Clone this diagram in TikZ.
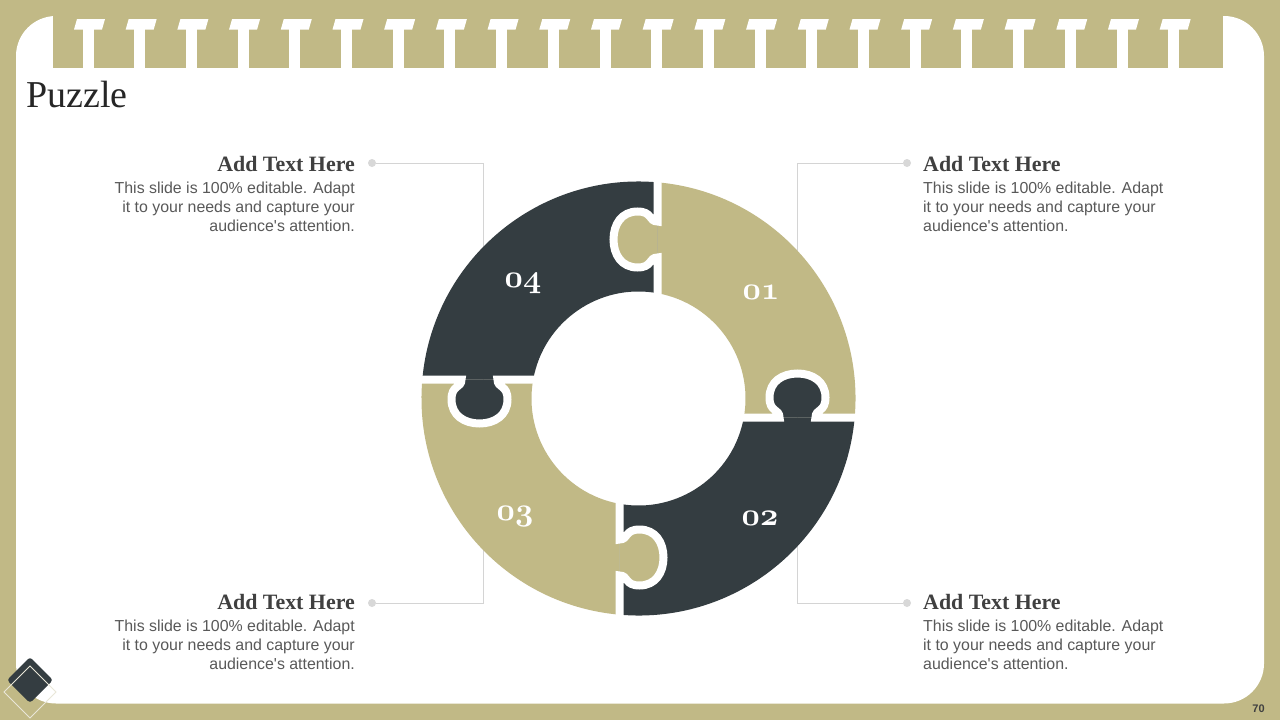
\documentclass[tikz,border=0pt]{standalone}
\usepackage{fontspec}
\setmainfont{Liberation Serif}
\setsansfont{Liberation Sans}
\usepackage{tikz}

\definecolor{tan}{RGB}{193,185,134}
\definecolor{slate}{RGB}{52,61,65}
\definecolor{bodygray}{RGB}{89,89,89}
\definecolor{headgray}{RGB}{64,64,64}
\definecolor{titlegray}{RGB}{38,38,38}
\definecolor{linegray}{RGB}{212,212,212}
\definecolor{dotgray}{RGB}{216,216,216}
\definecolor{diamondline}{RGB}{233,230,216}

\tikzset{
  heading/.style={font=\bfseries\fontsize{21.9}{24}\selectfont, text=headgray, inner sep=0},
  blurb/.style={font=\sffamily\fontsize{15.9}{19.3}\selectfont, text=bodygray, inner sep=0},
  numlabel/.style={font=\fontsize{24.88}{26}\usefont{OML}{cmm}{b}{it}, text=white, scale=1.28, inner sep=0},
  enddot/.style={circle, fill=dotgray, minimum size=8, inner sep=0},
  leader/.style={draw=linegray, line width=0.9},
}

\begin{document}
\begin{tikzpicture}[x=1pt,y=-1pt]
            \useasboundingbox (0,0) rectangle (1280,720);
            \fill[tan] (0,0) rectangle (1280,720);
            \fill[white, rounded corners=40] (16,16) rectangle (1264,703.5);
            \fill[tan] (53,0) rectangle (1223,67.5);
            \foreach \k in {0,...,21}{
                \pgfmathsetmacro\cx{88+51.7*\k}
                \fill[white] (\cx-5.5,29) rectangle (\cx+5.5,68);
                \fill[white] (\cx-14,29.5) -- (\cx-11,19) -- (\cx+17,19) -- (\cx+14,29.5) -- cycle;
            }
            \node[font=\fontsize{38}{40}\selectfont, text=titlegray, anchor=base west, inner sep=0] (title) at (26,107.3) {Puzzle};

            \node[enddot] (dotTL) at (372,163) {};
            \node[enddot] (dotBL) at (372,603) {};
            \node[enddot] (dotTR) at (907,163) {};
            \node[enddot] (dotBR) at (907,603) {};
            \coordinate (kneeTL) at (483,163);
            \coordinate (kneeBL) at (483,603);
            \coordinate (kneeTR) at (797,163);
            \coordinate (kneeBR) at (797,603);
            \draw[leader] (dotTL) -- (kneeTL) -- (kneeBL) -- (dotBL);
            \draw[leader] (dotTR) -- (kneeTR) -- (kneeBR) -- (dotBR);

            \begin{scope}[shift={(638.5,398.5)}, x=1pt, y=1pt]
                \foreach \ang/\col in {0/tan,-90/slate,-180/tan,-270/slate}{
                    \fill[\col, rotate=\ang] (19,105.3) -- (19,216.2) arc[start angle=84.98, end angle=-5.02, radius=217]
                        -- (105.3,-19) arc[start angle=-10.23, end angle=79.77, radius=107] -- cycle;
                }
                \foreach \ang/\col in {0/tan,-90/slate,-180/tan,-270/slate}{
                    \begin{scope}[rotate=\ang, shift={(19,159)}]
                        \fill[\col] (0,-18) .. controls (-9,-18) and (-5,-28) .. (-20,-28)
                            .. controls (-36,-28) and (-44,-15) .. (-44,0)
                            .. controls (-44,15) and (-36,28) .. (-20,28)
                            .. controls (-5,28) and (-9,18) .. (0,18) -- cycle;
                        \draw[white, line width=8] (0,-60) -- (0,-18) .. controls (-9,-18) and (-5,-28) .. (-20,-28)
                            .. controls (-36,-28) and (-44,-15) .. (-44,0)
                            .. controls (-44,15) and (-36,28) .. (-20,28)
                            .. controls (-5,28) and (-9,18) .. (0,18) -- (0,64);
                    \end{scope}
                }
            \end{scope}
            \node[numlabel, anchor=base] (num01) at (761,299) {01};
            \node[numlabel, anchor=base] (num02) at (760,525) {02};
            \node[numlabel, anchor=base] (num03) at (515,520) {03};
            \node[numlabel, anchor=base] (num04) at (523,287) {04};

            \node[heading, anchor=base east] (headTL) at (355,171) {Add Text Here};
            \node[blurb, anchor=base east, align=right] (blurbTL) at (355,231.9) {This slide is 100\% editable. Adapt\\it to your needs and capture your\\audience\textquotesingle s attention.};
            \node[heading, anchor=base west] (headTR) at (923,171) {Add Text Here};
            \node[blurb, anchor=base west, align=left] (blurbTR) at (923,231.9) {This slide is 100\% editable. Adapt\\it to your needs and capture your\\audience\textquotesingle s attention.};
            \node[heading, anchor=base east] (headBL) at (355,609) {Add Text Here};
            \node[blurb, anchor=base east, align=right] (blurbBL) at (355,669.9) {This slide is 100\% editable. Adapt\\it to your needs and capture your\\audience\textquotesingle s attention.};
            \node[heading, anchor=base west] (headBR) at (923,609) {Add Text Here};
            \node[blurb, anchor=base west, align=left] (blurbBR) at (923,669.9) {This slide is 100\% editable. Adapt\\it to your needs and capture your\\audience\textquotesingle s attention.};

            \fill[slate, rounded corners=3] (30,657) -- (53,680) -- (30,703) -- (7,680) -- cycle;
            \draw[diamondline, line width=0.8] (30,666) -- (56,692) -- (30,718) -- (4,692) -- cycle;
            \node[font=\sffamily\bfseries\fontsize{11}{12}\selectfont, text=headgray, anchor=base, inner sep=0] (pagenum) at (1258.5,712.8) {70};
        \end{tikzpicture}
\end{document}
